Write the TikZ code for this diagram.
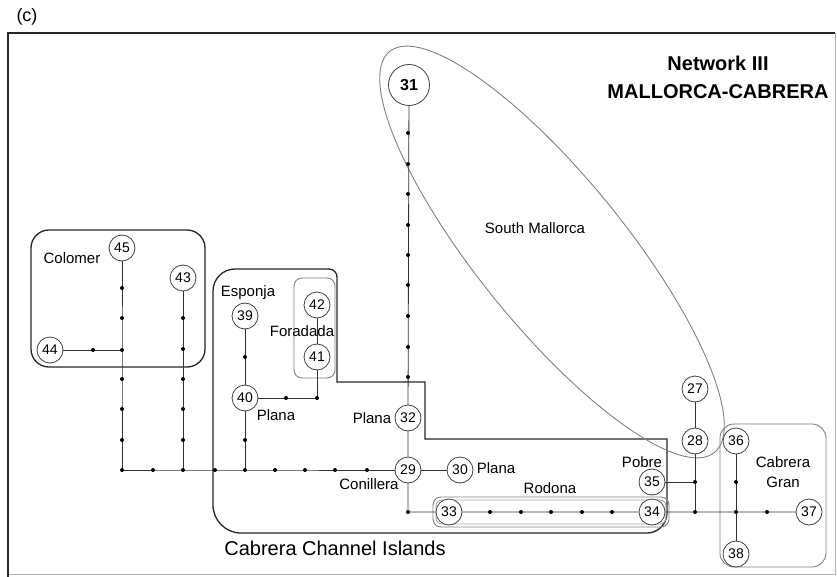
\documentclass[tikz,border=0pt]{standalone}
\usepackage{fontspec}
\setmainfont{Liberation Sans}
\begin{document}
\begin{tikzpicture}[x=1pt,y=-1pt,
  stn/.style={circle,draw=black!75,fill=white,line width=0.8pt,inner sep=0pt,
    minimum size=26pt,font=\fontsize{14}{14}\selectfont},
  bigstn/.style={stn,minimum size=41pt,font=\bfseries\fontsize{16}{16}\selectfont},
  lbl/.style={inner sep=0pt,font=\fontsize{15}{15}\selectfont},
  link/.style={draw=black!80,line width=0.8pt},
  rim/.style={draw=black!85,line width=1.3pt},
  zone/.style={draw=black!50,line width=0.9pt}]
  \useasboundingbox (0,0) rectangle (837,577);
  % frame
  \draw[black!30,line width=0.6pt] (835,33) -- (835,574) -- (8,574);
  \draw[black!85,line width=2.5pt] (8,577) -- (8,33) -- (835,33);
  \node[inner sep=0pt,font=\fontsize{18}{18}\selectfont] (fig) at (27,17) {(c)};
  \node[align=center,inner sep=0pt,font=\bfseries\fontsize{20}{28}\selectfont] (title) at (718,77)
    {Network III\\MALLORCA-CABRERA};
  % groups
  \draw[rim,rounded corners=18pt] (31,230) rectangle (205,367);
  \draw[rim] (425,382) -- (337,382) [rounded corners=8pt] -- (337,269)
    [rounded corners=22pt] -- (213,269) [rounded corners=28pt] -- (213,533)
    [rounded corners=20pt] -- (667,533) [sharp corners] -- (667,439) -- (425,439) -- cycle;
  \draw[zone,rounded corners=8pt] (294,278) rectangle (335,378);
  \draw[zone,rounded corners=8pt] (433,497) rectangle (669,527);
  \draw[zone,black!35,rounded corners=6pt] (436,500) rectangle (666,524);
  \draw[zone,rounded corners=14pt] (720,424) rectangle (826,567);
  \draw[zone,rotate around={-51:(552,252)}] (552,252) ellipse [x radius=258pt,y radius=74pt];
  % stations
  \node[bigstn] (n31) at (409,85) {31};
  \node[stn] (n32) at (408,418) {32};
  \node[stn] (n29) at (408,470) {29};
  \node[stn] (n30) at (460,470) {30};
  \node[stn] (n33) at (449,512) {33};
  \node[stn] (n34) at (652,512) {34};
  \node[stn] (n35) at (652,482) {35};
  \node[stn] (n27) at (695,389) {27};
  \node[stn] (n28) at (695,441) {28};
  \node[stn] (n36) at (736,441) {36};
  \node[stn] (n37) at (809,512) {37};
  \node[stn] (n38) at (736,554) {38};
  \node[stn] (n39) at (245,316) {39};
  \node[stn] (n40) at (245,398) {40};
  \node[stn] (n41) at (317,357) {41};
  \node[stn] (n42) at (317,305) {42};
  \node[stn] (n43) at (183,278) {43};
  \node[stn] (n44) at (50,350) {44};
  \node[stn] (n45) at (122,248) {45};
  \coordinate (j1) at (122,350);
  \coordinate (j2) at (122,470);
  \coordinate (j3) at (183,470);
  \coordinate (j4) at (245,470);
  \coordinate (j5) at (317,398);
  \coordinate (j6) at (408,512);
  \coordinate (j7) at (695,482);
  \coordinate (j8) at (695,512);
  \coordinate (j9) at (736,512);
  % links
  \draw[link] (n45) -- (j1) -- (j2) -- (j3) -- (j4) -- (n29);
  \draw[link] (n44) -- (j1);
  \draw[link] (n43) -- (j3);
  \draw[link] (n39) -- (n40) -- (j4);
  \draw[link] (n40) -- (j5) -- (n41) -- (n42);
  \draw[link] (n31) -- (n32) -- (n29) -- (j6) -- (n33) -- (n34) -- (j8) -- (j9) -- (n37);
  \draw[link] (n29) -- (n30);
  \draw[link] (n35) -- (j7);
  \draw[link] (n27) -- (n28) -- (j7) -- (j8);
  \draw[link] (n36) -- (j9) -- (n38);
  % stops
  \foreach \y in {288,318,350,379,409,440,470}{\fill (122,\y) circle (2);}
  \foreach \y in {318,349,379,409,440,470}{\fill (183,\y) circle (2);}
  \foreach \x in {93}{\fill (\x,350) circle (2);}
  \foreach \x in {153,215,245,275,305,335,367}{\fill (\x,470) circle (2);}
  \foreach \y in {357,440}{\fill (245,\y) circle (2);}
  \foreach \x in {286,317}{\fill (\x,398) circle (2);}
  \foreach \y in {133,164,194,225,255,285,316,347,377}{\fill (408,\y) circle (2);}
  \foreach \x in {408,490,521,551,582,612,695,736,767}{\fill (\x,512) circle (2);}
  \foreach \x in {695,736}{\fill (\x,482) circle (2);}
  % names
  \node[lbl] (colomer) at (72,258) {Colomer};
  \node[lbl] (esponja) at (248,293) {Esponja};
  \node[lbl] (foradada) at (302,331) {Foradada};
  \node[lbl] (plana1) at (276,415) {Plana};
  \node[lbl] (plana2) at (372,418) {Plana};
  \node[lbl] (conillera) at (369,484) {Conillera};
  \node[lbl] (plana3) at (496,468) {Plana};
  \node[lbl] (rodona) at (550,488) {Rodona};
  \node[lbl] (pobre) at (642,462) {Pobre};
  \node[lbl,align=center,font=\fontsize{15}{20}\selectfont] (gran) at (783,472) {Cabrera\\Gran};
  \node[lbl] (south) at (535,228) {South Mallorca};
  \node[lbl,font=\fontsize{20}{20}\selectfont] (channel) at (335,548) {Cabrera Channel Islands};
\end{tikzpicture}
\end{document}
